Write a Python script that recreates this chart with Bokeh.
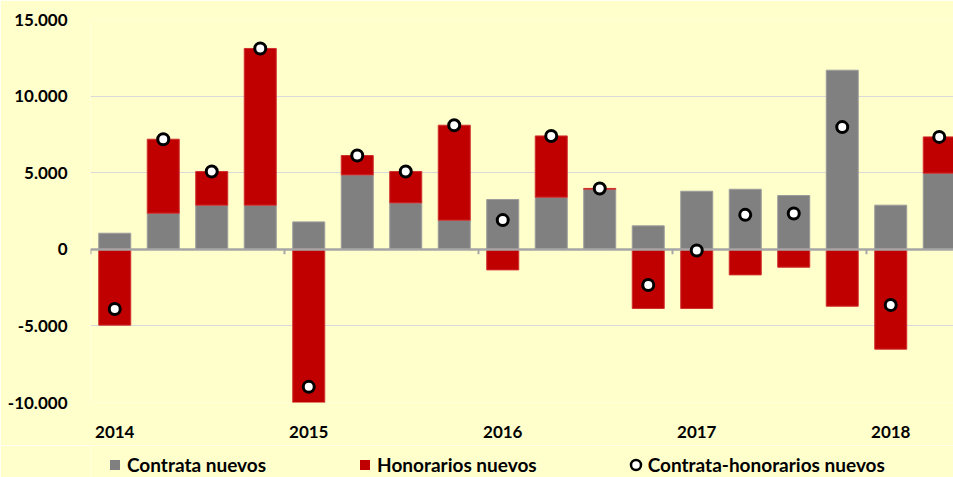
from bokeh.plotting import figure
from bokeh.layouts import column
from bokeh.models import ColumnDataSource, Range1d, FixedTicker, Legend, LegendItem
from bokeh.embed import file_html
from bokeh.resources import INLINE

# ---- data ----
contrata = [1050, 2356, 2880, 2880, 1790, 4856, 3030, 1900, 3250, 3400,
            3923, 1530, 3790, 3920, 3510, 11690, 2880, 4967]
honorarios = [-4950, 4830, 2200, 10230, -10770, 1265, 2050, 6200, -1345, 4000,
              50, -3865, -3865, -1670, -1170, -3715, -6520, 2370]
year_labels = ["2014", "2015", "2016", "2017", "2018"]
quarters_per_year = 4
y_tick_values = [-10000, -5000, 0, 5000, 10000, 15000]
y_tick_labels = ["-10.000", "-5.000", "0", "5.000", "10.000", "15.000"]
series_names = ["Contrata nuevos", "Honorarios nuevos", "Contrata-honorarios nuevos"]

# ---- derived ----
n = len(contrata)
x = [i + 0.5 for i in range(n)]
neto = [c + h for c, h in zip(contrata, honorarios)]
h_bottom = [c if h > 0 else 0 for c, h in zip(contrata, honorarios)]
h_top = [c + h if h > 0 else h for c, h in zip(contrata, honorarios)]
src = ColumnDataSource(dict(x=x, contrata=contrata, zero=[0] * n,
                            hb=h_bottom, ht=h_top, neto=neto))

BG = "#FFFFCC"
FONT = "Lato"
GRAY = "#808080"
RED = "#C00000"
AXIS = "#A6A6A6"

p = figure(width=953, height=445, output_backend="svg", toolbar_location=None,
           x_range=Range1d(0, 17.794), y_range=Range1d(-10000, 15000),
           min_border_left=90, min_border_right=0, min_border_top=19,
           min_border_bottom=43, background_fill_color=BG,
           border_fill_color=BG, outline_line_color=None)

r_gray = p.vbar(x="x", bottom="zero", top="contrata", width=0.66,
                fill_color=GRAY, line_color="#9C9C9C", line_width=1, source=src)
r_red = p.vbar(x="x", bottom="hb", top="ht", width=0.66,
               fill_color=RED, line_color="#D03030", line_width=1, source=src)

# zero axis line and year-boundary ticks
p.hspan(y=[0], line_color=AXIS, line_width=2.5)
bounds = [i * quarters_per_year for i in range(len(year_labels))]
p.segment(x0=bounds, y0=[0] * len(bounds), x1=bounds, y1=[-330] * len(bounds),
          line_color=AXIS, line_width=2)

r_dot = p.scatter(x="x", y="neto", marker="circle", size=11, fill_color="white",
                  line_color="black", line_width=3, source=src)

# y axis
p.yaxis.ticker = FixedTicker(ticks=y_tick_values)
p.yaxis.major_label_overrides = {v: l for v, l in zip(y_tick_values, y_tick_labels)}
p.yaxis.axis_line_color = None
p.yaxis.major_tick_line_color = None
p.yaxis.minor_tick_line_color = None
p.yaxis.major_label_text_font = FONT
p.yaxis.major_label_text_font_style = "bold"
p.yaxis.major_label_text_font_size = "17px"
p.yaxis.major_label_text_color = "black"
p.yaxis.major_label_standoff = 17

p.ygrid.ticker = FixedTicker(ticks=y_tick_values)
p.ygrid.grid_line_color = "#D9D9D9"
p.ygrid.grid_line_width = 1
p.xgrid.visible = False

# x axis (labels at the bottom)
x_ticks = [b + 0.5 for b in bounds]
p.xaxis.ticker = FixedTicker(ticks=x_ticks)
p.xaxis.major_label_overrides = {t: l for t, l in zip(x_ticks, year_labels)}
p.xaxis.axis_line_color = None
p.xaxis.major_tick_line_color = None
p.xaxis.minor_tick_line_color = None
p.xaxis.major_label_text_font = FONT
p.xaxis.major_label_text_font_style = "bold"
p.xaxis.major_label_text_font_size = "17px"
p.xaxis.major_label_text_color = "black"
p.xaxis.major_label_standoff = 17

# ---- legend strip ----
pl = figure(width=953, height=32, output_backend="svg", toolbar_location=None,
            x_range=Range1d(0, 1), y_range=Range1d(0, 1),
            x_axis_type=None, y_axis_type=None, min_border=0,
            background_fill_color=BG, border_fill_color=BG, outline_line_color=None)
pl.xgrid.visible = False
pl.ygrid.visible = False
lg_gray = pl.scatter(x=[-5], y=[-5], marker="square", size=10,
                     fill_color=GRAY, line_color=None)
lg_red = pl.scatter(x=[-5], y=[-5], marker="square", size=10,
                    fill_color=RED, line_color=None)
lg_dot = pl.scatter(x=[-5], y=[-5], marker="circle", size=10, fill_color="white",
                    line_color="black", line_width=2.5)

legend = Legend(items=[LegendItem(label=series_names[0], renderers=[lg_gray]),
                       LegendItem(label=series_names[1], renderers=[lg_red]),
                       LegendItem(label=series_names[2], renderers=[lg_dot])],
                location=(12, 0), orientation="horizontal",
                glyph_width=25, glyph_height=25, label_standoff=0, spacing=86,
                padding=0, margin=0, border_line_color=None,
                background_fill_alpha=0, label_text_font=FONT,
                label_text_font_style="bold", label_text_font_size="19px",
                label_text_color="black")
pl.add_layout(legend, "center")

layout = column(p, pl, spacing=0)
open("out.html", "w").write(file_html(layout, INLINE))
